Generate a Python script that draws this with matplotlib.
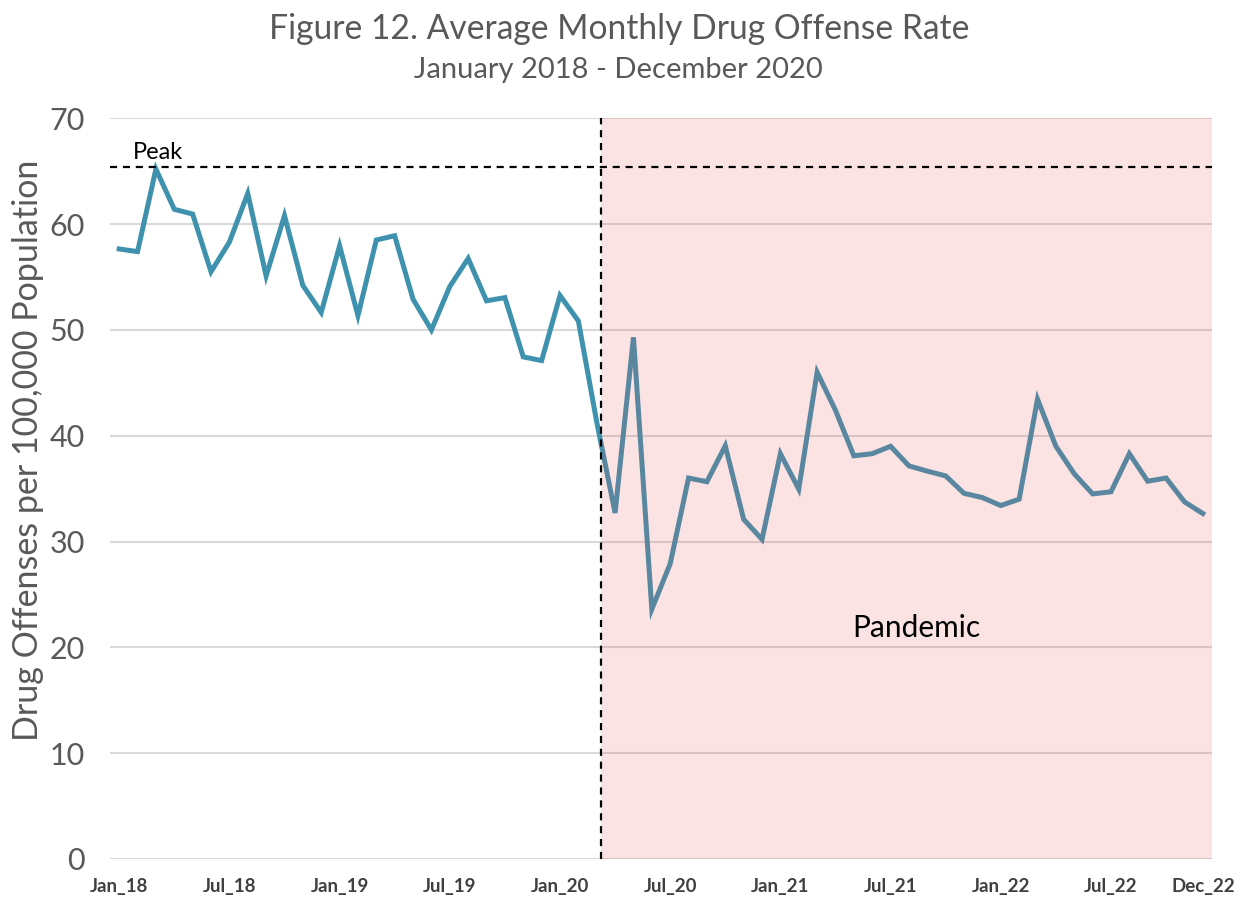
import matplotlib
matplotlib.use("Agg")
import matplotlib.pyplot as plt

months = [f"{m}_{y}" for y in ["18", "19", "20", "21", "22"]
          for m in ["Jan", "Feb", "Mar", "Apr", "May", "Jun",
                    "Jul", "Aug", "Sep", "Oct", "Nov", "Dec"]]

rates = [
    57.65, 57.4, 65.2, 61.4, 60.95, 55.5, 58.3, 62.9, 55.1, 60.8, 54.2, 51.65,
    57.95, 51.35, 58.5, 58.9, 52.9, 50.0, 54.1, 56.75, 52.75, 53.05, 47.45, 47.1,
    53.25, 50.85, 41.3, 32.7, 49.3, 23.6, 27.9, 36.0, 35.65, 39.05, 32.1, 30.2,
    38.3, 34.95, 46.0, 42.4, 38.1, 38.3, 39.0, 37.15, 36.65, 36.2, 34.55, 34.15,
    33.4, 34.0, 43.45, 39.0, 36.4, 34.5, 34.7, 38.3, 35.7, 36.0, 33.75, 32.65,
]

tick_labels = ["Jan_18", "Jul_18", "Jan_19", "Jul_19", "Jan_20", "Jul_20",
               "Jan_21", "Jul_21", "Jan_22", "Jul_22", "Dec_22"]
tick_months = ["Jan_18", "Jul_18", "Jan_19", "Jul_19", "Jan_20", "Jul_20",
               "Jan_21", "Jul_21", "Jan_22", "Jul_22", "Dec_22"]

peak_value = 65.4
pandemic_start = 26.25
y_ticks = [0, 10, 20, 30, 40, 50, 60, 70]

fig = plt.figure(figsize=(12.5, 9.01), dpi=100)
ax = fig.add_axes([0.088, 0.0467, 0.8816, 0.822])

x = list(range(len(rates)))
ax.plot(x, rates, color="#3F92AE", lw=3.6, solid_joinstyle="miter", zorder=3)

ax.set_xlim(-0.5, len(rates) - 0.5)
ax.set_ylim(0, 70)

# pandemic shading (drawn over the line, semi-transparent)
ax.axvspan(pandemic_start, len(rates) - 0.5, color=(235/255, 81/255, 81/255),
           alpha=0.155, lw=0, zorder=4)

ax.axvline(pandemic_start, color="black", lw=1.6, ls=(0, (3.2, 2.6)), zorder=5)
ax.axhline(peak_value, color="black", lw=1.6, ls=(0, (3.2, 2.6)), zorder=5)

ax.set_yticks(y_ticks)
ax.yaxis.grid(True, color="#D9D9D9", lw=1.5)
ax.set_axisbelow(True)
for s in ["top", "right", "left", "bottom"]:
    ax.spines[s].set_visible(False)
ax.axhline(0, color="#D9D9D9", lw=2, zorder=1)

ax.set_xticks([months.index(m) for m in tick_months])
ax.set_xticklabels(tick_labels, fontfamily="Lato", fontweight="bold",
                   fontsize=13.5, color="#404040")
ax.tick_params(axis="x", length=0, pad=14)
ax.tick_params(axis="y", length=0, pad=18, labelsize=22, labelcolor="#595959")
for lab in ax.get_yticklabels():
    lab.set_fontfamily("Lato")

ax.set_ylabel("Drug Offenses per 100,000 Population", fontfamily="Lato",
              fontsize=24.5, color="#595959", va="center")
ax.yaxis.set_label_coords(-0.0745, 0.552)

ax.text(2.1, 66.8, "Peak", ha="center", va="center", fontfamily="Lato",
        fontsize=17, color="black", zorder=6)
ax.text(43.4, 21.8, "Pandemic", ha="center", va="center", fontfamily="Lato",
        fontsize=21.5, color="black", zorder=6)

fig.text(0.495, 0.968, "Figure 12. Average Monthly Drug Offense Rate",
         ha="center", va="center", fontfamily="Lato", fontsize=24.2, color="#595959")
fig.text(0.495, 0.922, "January 2018 - December 2020",
         ha="center", va="center", fontfamily="Lato", fontsize=21, color="#595959")

fig.savefig("out.png", dpi=100)
